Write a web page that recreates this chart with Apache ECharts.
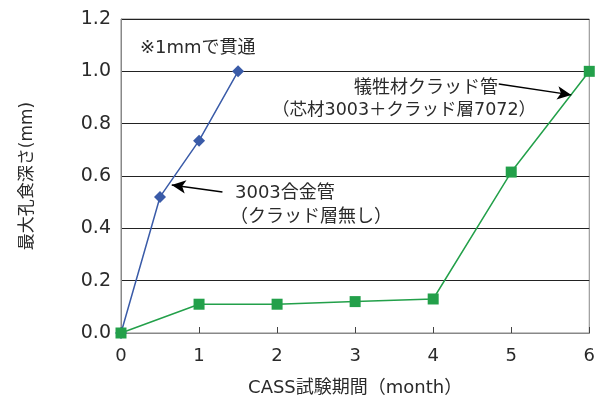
<!DOCTYPE html>
<html><head><meta charset="utf-8">
<script src="https://cdn.jsdelivr.net/npm/echarts@6/dist/echarts.min.js"></script>
<style>html,body{margin:0;padding:0;background:#fff}#c{width:598px;height:404px}</style>
</head><body><div id="c"></div>
<script>
const monthsAlloy = [0, 0.5, 1, 1.5];
const depthAlloy = [0, 0.52, 0.735, 1.0];
const monthsClad = [0, 1, 2, 3, 4, 5, 6];
const depthClad = [0, 0.11, 0.11, 0.12, 0.13, 0.615, 1.0];
const yTicks = [0, 0.2, 0.4, 0.6, 0.8, 1.0, 1.2];
const xTicks = [0, 1, 2, 3, 4, 5, 6];
const arrowAlloy = [[1.30, 0.539], [0.65, 0.566]];
const arrowClad = [[4.84, 0.952], [5.77, 0.910]];

const FONT = '"DejaVu Sans", "Noto Sans CJK JP", sans-serif';
const TXT = '#2a2a2a';
const chart = echarts.init(document.getElementById('c'));
chart.setOption({
  animation: false,
  textStyle: {fontFamily: FONT},
  grid: {left: 121, right: 5, top: 19, bottom: 71, show: true, borderColor: '#888', borderWidth: 1},
  xAxis: {
    type: 'value', min: 0, max: 6, interval: 1,
    name: 'CASS試験期間（month）', nameLocation: 'middle', nameGap: 46,
    nameTextStyle: {fontSize: 18, color: TXT, fontFamily: FONT},
    axisLine: {show: true, lineStyle: {color: '#888', width: 1}},
    axisTick: {show: true, inside: true, length: 6, lineStyle: {color: '#444'}},
    axisLabel: {fontSize: 18, color: TXT, margin: 14, fontFamily: FONT,
      formatter: v => xTicks.includes(v) ? String(v) : ''},
    splitLine: {show: false}
  },
  yAxis: {
    type: 'value', min: 0, max: 1.2, interval: 0.2,
    name: '最大孔食深さ(mm)', nameLocation: 'middle', nameGap: 85, nameRotate: 90,
    nameTextStyle: {fontSize: 17, color: TXT, fontFamily: FONT},
    axisLine: {show: true, lineStyle: {color: '#888', width: 1}},
    axisTick: {show: false},
    axisLabel: {fontSize: 19, color: TXT, margin: 10, fontFamily: FONT, formatter: v => {
      const t = yTicks.find(k => Math.abs(k - v) < 1e-6); return t === undefined ? '' : t.toFixed(1);}},
    splitLine: {show: true, lineStyle: {color: '#222', width: 1}}
  },
  series: [
    {
      type: 'line', data: monthsAlloy.map((m, i) => [m, depthAlloy[i]]),
      symbol: 'diamond', symbolSize: 12, z: 3,
      itemStyle: {color: '#3a5ba8'}, lineStyle: {color: '#3a5ba8', width: 1.5},
      markLine: {
        silent: true, symbol: ['none', 'arrow'], symbolSize: [10, 14], label: {show: false},
        lineStyle: {color: '#000', width: 1.5, type: 'solid'},
        data: [[{coord: arrowAlloy[0]}, {coord: arrowAlloy[1]}]]
      }
    },
    {
      type: 'line', data: monthsClad.map((m, i) => [m, depthClad[i]]),
      symbol: 'rect', symbolSize: 11, z: 4,
      itemStyle: {color: '#23a04a'}, lineStyle: {color: '#23a04a', width: 1.5},
      markLine: {
        silent: true, symbol: ['none', 'arrow'], symbolSize: [10, 14], label: {show: false},
        lineStyle: {color: '#000', width: 1.5, type: 'solid'},
        data: [[{coord: arrowClad[0]}, {coord: arrowClad[1]}]]
      }
    }
  ],
  graphic: [
    {type: 'text', left: 140, top: 39, style: {text: '※1mmで貫通', font: '18px ' + FONT, fill: TXT}},
    {type: 'text', left: 235, top: 184, style: {text: '3003合金管', font: '18px ' + FONT, fill: TXT}},
    {type: 'text', left: 230, top: 208, style: {text: '（クラッド層無し）', font: '18px ' + FONT, fill: TXT}},
    {type: 'text', left: 354, top: 79, style: {text: '犠牲材クラッド管', font: '18px ' + FONT, fill: TXT}},
    {type: 'text', left: 272, top: 102, style: {text: '（芯材3003＋クラッド層7072）', font: '17.5px ' + FONT, fill: TXT}}
  ]
});
</script></body></html>
